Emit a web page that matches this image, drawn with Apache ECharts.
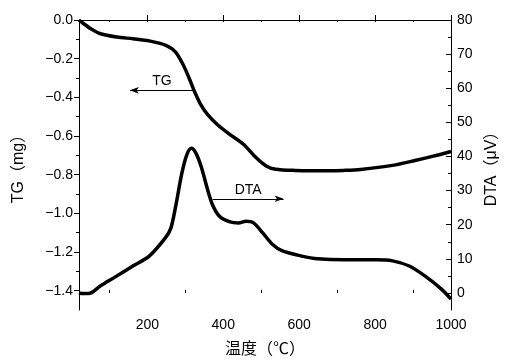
<!DOCTYPE html>
<html>
<head>
<meta charset="utf-8">
<script src="https://cdn.jsdelivr.net/npm/echarts@6/dist/echarts.min.js"></script>
<style>
  html, body { margin: 0; padding: 0; background: #fff; }
  #chart { width: 508px; height: 363px; }
</style>
</head>
<body>
<div id="chart"></div>
<script>
// temperature (°C) and TG (mg)
var tgTemp = [20, 26, 51, 77, 120, 162, 205, 249, 274, 295, 310, 323, 340, 359, 385, 418, 454, 487, 513, 538, 590, 674, 718, 762, 846, 905, 956, 1000];
var tgVals = [0.0, -0.01, -0.045, -0.071, -0.088, -0.097, -0.108, -0.131, -0.165, -0.234, -0.30, -0.364, -0.435, -0.49, -0.542, -0.593, -0.644, -0.713, -0.755, -0.772, -0.778, -0.78, -0.778, -0.773, -0.752, -0.727, -0.703, -0.68];

// temperature (°C) and DTA (μV)
var dtaTemp = [20, 30, 45, 77, 120, 162, 205, 248, 262, 274, 291, 304, 316, 328, 342, 359, 372, 390, 418, 440, 460, 479, 504, 530, 556, 607, 649, 718, 803, 846, 890, 931, 974, 1000];
var dtaVals = [0.0, -0.2, -0.2, 2.1, 5.0, 7.9, 10.8, 16.2, 19.0, 25.0, 35.1, 40.5, 42.4, 41.0, 37.0, 30.2, 25.8, 22.5, 20.8, 20.5, 21.0, 20.6, 17.6, 14.2, 12.3, 10.8, 10.0, 9.7, 9.7, 9.4, 7.9, 5.0, 1.2, -1.8];

var xTicks = [200, 400, 600, 800, 1000];
var xMinor = [100, 300, 500, 700, 900];
var xTop = [100, 200, 300, 400, 500, 600, 700, 800, 900];
var tgTicks = [0, -0.2, -0.4, -0.6, -0.8, -1.0, -1.2, -1.4];
var tgMinor = [-0.1, -0.3, -0.5, -0.7, -0.9, -1.1, -1.3];
var dtaTicks = [0, 10, 20, 30, 40, 50, 60, 70, 80];
var dtaMinor = [5, 15, 25, 35, 45, 55, 65, 75];

function pairs(xs, ys) {
    return xs.map(function (x, i) { return [x, ys[i]]; });
}

var numFont = 'Liberation Sans, Arial, sans-serif';
var nameFont = 'Liberation Sans, Noto Sans CJK JP, sans-serif';
var line = { lineStyle: { color: '#000', width: 1 } };

var chart = echarts.init(document.getElementById('chart'));
chart.setOption({
    animation: false,
    grid: { left: 79, right: 49, top: 20, bottom: 51 },
    xAxis: [{
        type: 'value', min: 20, max: 1000,
        name: '温度（℃）', nameLocation: 'middle', nameGap: 32,
        nameTextStyle: { fontSize: 16, color: '#000', fontFamily: nameFont },
        axisLine: line,
        axisTick: { inside: true, length: 5, customValues: xTicks, lineStyle: { color: '#000' } },
        axisLabel: {
            customValues: xTicks, color: '#000', fontSize: 14, fontFamily: numFont, margin: 8,
            formatter: function (v) { return String(v); }
        },
        splitLine: { show: false }
    }, {
        type: 'value', min: 20, max: 1000, position: 'bottom',
        axisLine: { show: false },
        axisTick: { inside: true, length: 3, customValues: xMinor, lineStyle: { color: '#000' } },
        axisLabel: { show: false }, splitLine: { show: false }
    }, {
        type: 'value', min: 20, max: 1000, position: 'top',
        axisLine: line,
        axisTick: { inside: true, length: 2, customValues: xTop, lineStyle: { color: '#000' } },
        axisLabel: { show: false }, splitLine: { show: false }
    }],
    yAxis: [{
        type: 'value', min: -1.5, max: 0, position: 'left',
        name: 'TG（mg）', nameLocation: 'middle', nameGap: 52, nameRotate: 90,
        nameTextStyle: { fontSize: 16, color: '#000', fontFamily: nameFont },
        axisLine: line,
        axisTick: { length: 5, customValues: tgTicks, lineStyle: { color: '#000' } },
        axisLabel: {
            customValues: tgTicks, color: '#000', fontSize: 14, fontFamily: numFont, margin: 6,
            formatter: function (v) { return v.toFixed(1).replace('-', '\u2212'); }
        },
        splitLine: { show: false }
    }, {
        type: 'value', min: -5, max: 80, position: 'right',
        name: 'DTA（μV）', nameLocation: 'middle', nameGap: 33, nameRotate: 90,
        nameTextStyle: { fontSize: 16, color: '#000', fontFamily: nameFont },
        axisLine: line,
        axisTick: { inside: true, length: 5, customValues: dtaTicks, lineStyle: { color: '#000' } },
        axisLabel: { customValues: dtaTicks, color: '#000', fontSize: 14, fontFamily: numFont, margin: 6 },
        splitLine: { show: false }
    }, {
        type: 'value', min: -1.5, max: 0, position: 'left',
        axisLine: { show: false },
        axisTick: { length: 3, customValues: tgMinor, lineStyle: { color: '#000' } },
        axisLabel: { show: false }, splitLine: { show: false }
    }, {
        type: 'value', min: -5, max: 80, position: 'right',
        axisLine: { show: false },
        axisTick: { inside: true, length: 3, customValues: dtaMinor, lineStyle: { color: '#000' } },
        axisLabel: { show: false }, splitLine: { show: false }
    }],
    series: [{
        name: 'TG', type: 'line', xAxisIndex: 0, yAxisIndex: 0,
        data: pairs(tgTemp, tgVals), smooth: 0.3, showSymbol: false,
        lineStyle: { color: '#000', width: 3.5 },
        markLine: {
            silent: true, animation: false,
            lineStyle: { color: '#000', width: 1, type: 'solid' },
            label: { show: true, position: 'insideMiddleTop', distance: 2, formatter: 'TG', color: '#000', fontSize: 14, fontFamily: numFont },
            data: [[
                { coord: [323, -0.364], symbol: 'none' },
                { coord: [154, -0.364], symbol: 'arrow', symbolSize: [5, 9] }
            ]]
        }
    }, {
        name: 'DTA', type: 'line', xAxisIndex: 0, yAxisIndex: 1,
        data: pairs(dtaTemp, dtaVals), smooth: 0.3, showSymbol: false,
        lineStyle: { color: '#000', width: 3.5 },
        markLine: {
            silent: true, animation: false,
            lineStyle: { color: '#000', width: 1, type: 'solid' },
            label: { show: true, position: 'insideMiddleTop', distance: 2, formatter: 'DTA', color: '#000', fontSize: 14, fontFamily: numFont },
            data: [[
                { coord: [372, 27.6], symbol: 'none' },
                { coord: [559, 27.6], symbol: 'arrow', symbolSize: [5, 9] }
            ]]
        }
    }]
});
</script>
</body>
</html>
